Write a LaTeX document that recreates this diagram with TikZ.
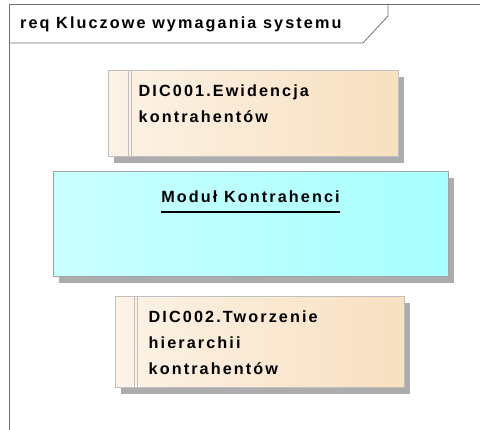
\documentclass[tikz,border=0pt]{standalone}
\usepackage{fontspec}
\setmainfont{Liberation Sans}[LetterSpace=13, BoldFont={Liberation Sans Bold}]
\usetikzlibrary{positioning,shadows}
\definecolor{eaframe}{RGB}{110,110,110}
\definecolor{eaborder}{RGB}{192,192,192}
\definecolor{eashadow}{RGB}{172,172,172}
\definecolor{eareqleft}{RGB}{252,242,230}
\definecolor{eareqright}{RGB}{248,224,192}
\definecolor{eamodleft}{RGB}{202,255,255}
\definecolor{eamodright}{RGB}{168,255,255}

\begin{document}
\begin{tikzpicture}[x=1pt, y=-1pt,
  eabox/.style={rectangle, inner sep=0pt, line width=1pt,
    drop shadow={shadow xshift=6pt, shadow yshift=-6pt, fill=eashadow, opacity=1}},
  reqbox/.style={eabox, draw=eaborder, left color=eareqleft, right color=eareqright},
  modbox/.style={eabox, draw=eaborder!85!black, left color=eamodleft, right color=eamodright},
  eatext/.style={inner sep=0pt, font=\fontsize{16.2}{26}\selectfont\bfseries, align=left},
  stripe/.style={draw=eaborder, line width=0.8pt}]
  \useasboundingbox (0,0) rectangle (480,430);

  % diagram frame
  \draw[eaframe, line width=1pt] (480,5) -- (9,5) -- (9,430);
  \draw[eaframe, line width=0.8pt] (388,5) -- (388,16) -- (363,43) -- (9,43);
  \node[eatext, anchor=base west] (title) at (20,29) {req Kluczowe wymagania systemu};

  % DIC001
  \node[reqbox, minimum width=290, minimum height=86] (req1) at (253,114) {};
  \draw[stripe] ([xshift=21pt]req1.north west) -- ([xshift=21pt]req1.south west);
  \draw[stripe] ([xshift=24pt]req1.north west) -- ([xshift=24pt]req1.south west);
  \node[eatext, anchor=north west] (req1t) at ([xshift=31pt, yshift=-14.5pt]req1.north west) {DIC001.Ewidencja\\kontrahentów};

  % Modul Kontrahenci
  \node[modbox, minimum width=395, minimum height=105] (mod) at (250.5,224.5) {};
  \node[eatext, anchor=base] (modt) at (250.5,203) {Moduł Kontrahenci};
  \draw[line width=1.6pt] ([yshift=-9pt]modt.base west) -- ([yshift=-9pt]modt.base east);

  % DIC002
  \node[reqbox, minimum width=289, minimum height=91] (req2) at (259.5,342.5) {};
  \draw[stripe] ([xshift=20pt]req2.north west) -- ([xshift=20pt]req2.south west);
  \draw[stripe] ([xshift=23pt]req2.north west) -- ([xshift=23pt]req2.south west);
  \node[eatext, anchor=north west] (req2t) at ([xshift=34pt, yshift=-14.5pt]req2.north west) {DIC002.Tworzenie\\hierarchii\\kontrahentów};
\end{tikzpicture}
\end{document}
